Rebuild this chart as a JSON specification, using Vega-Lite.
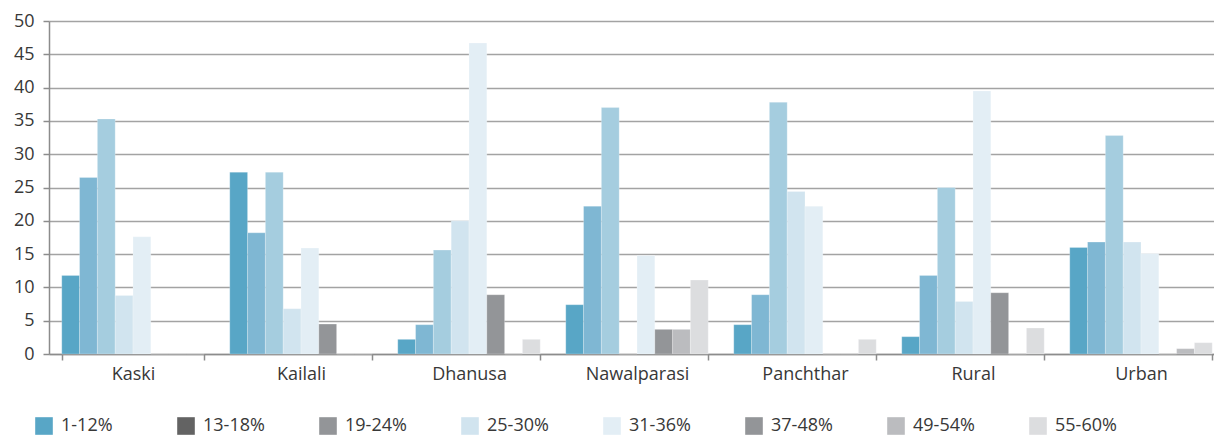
{
  "$schema": "https://vega.github.io/schema/vega-lite/v6.json",
  "width": 1164,
  "height": 333,
  "autosize": {"type": "none"},
  "padding": {"left": 49, "top": 21, "right": 1, "bottom": 83},
  "background": "white",
  "config": {"view": {"stroke": null}, "font": "Open Sans"},
  "data": {
    "values": [
      {"region": "Kaski", "band": "1-12%", "value": 11.8},
      {"region": "Kaski", "band": "13-18%", "value": 26.5},
      {"region": "Kaski", "band": "19-24%", "value": 35.3},
      {"region": "Kaski", "band": "25-30%", "value": 8.8},
      {"region": "Kaski", "band": "31-36%", "value": 17.6},
      {"region": "Kaski", "band": "37-48%", "value": 0},
      {"region": "Kaski", "band": "49-54%", "value": 0},
      {"region": "Kaski", "band": "55-60%", "value": 0},
      {"region": "Kailali", "band": "1-12%", "value": 27.3},
      {"region": "Kailali", "band": "13-18%", "value": 18.2},
      {"region": "Kailali", "band": "19-24%", "value": 27.3},
      {"region": "Kailali", "band": "25-30%", "value": 6.8},
      {"region": "Kailali", "band": "31-36%", "value": 15.9},
      {"region": "Kailali", "band": "37-48%", "value": 4.5},
      {"region": "Kailali", "band": "49-54%", "value": 0},
      {"region": "Kailali", "band": "55-60%", "value": 0},
      {"region": "Dhanusa", "band": "1-12%", "value": 2.2},
      {"region": "Dhanusa", "band": "13-18%", "value": 4.4},
      {"region": "Dhanusa", "band": "19-24%", "value": 15.6},
      {"region": "Dhanusa", "band": "25-30%", "value": 20.0},
      {"region": "Dhanusa", "band": "31-36%", "value": 46.7},
      {"region": "Dhanusa", "band": "37-48%", "value": 8.9},
      {"region": "Dhanusa", "band": "49-54%", "value": 0},
      {"region": "Dhanusa", "band": "55-60%", "value": 2.2},
      {"region": "Nawalparasi", "band": "1-12%", "value": 7.4},
      {"region": "Nawalparasi", "band": "13-18%", "value": 22.2},
      {"region": "Nawalparasi", "band": "19-24%", "value": 37.0},
      {"region": "Nawalparasi", "band": "25-30%", "value": 0},
      {"region": "Nawalparasi", "band": "31-36%", "value": 14.8},
      {"region": "Nawalparasi", "band": "37-48%", "value": 3.7},
      {"region": "Nawalparasi", "band": "49-54%", "value": 3.7},
      {"region": "Nawalparasi", "band": "55-60%", "value": 11.1},
      {"region": "Panchthar", "band": "1-12%", "value": 4.4},
      {"region": "Panchthar", "band": "13-18%", "value": 8.9},
      {"region": "Panchthar", "band": "19-24%", "value": 37.8},
      {"region": "Panchthar", "band": "25-30%", "value": 24.4},
      {"region": "Panchthar", "band": "31-36%", "value": 22.2},
      {"region": "Panchthar", "band": "37-48%", "value": 0},
      {"region": "Panchthar", "band": "49-54%", "value": 0},
      {"region": "Panchthar", "band": "55-60%", "value": 2.2},
      {"region": "Rural", "band": "1-12%", "value": 2.6},
      {"region": "Rural", "band": "13-18%", "value": 11.8},
      {"region": "Rural", "band": "19-24%", "value": 25.0},
      {"region": "Rural", "band": "25-30%", "value": 7.9},
      {"region": "Rural", "band": "31-36%", "value": 39.5},
      {"region": "Rural", "band": "37-48%", "value": 9.2},
      {"region": "Rural", "band": "49-54%", "value": 0},
      {"region": "Rural", "band": "55-60%", "value": 3.9},
      {"region": "Urban", "band": "1-12%", "value": 16.0},
      {"region": "Urban", "band": "13-18%", "value": 16.8},
      {"region": "Urban", "band": "19-24%", "value": 32.8},
      {"region": "Urban", "band": "25-30%", "value": 16.8},
      {"region": "Urban", "band": "31-36%", "value": 15.1},
      {"region": "Urban", "band": "37-48%", "value": 0},
      {"region": "Urban", "band": "49-54%", "value": 0.8},
      {"region": "Urban", "band": "55-60%", "value": 1.7}
    ]
  },
  "encoding": {
    "x": {
      "field": "region",
      "type": "nominal",
      "sort": ["Kaski", "Kailali", "Dhanusa", "Nawalparasi", "Panchthar", "Rural", "Urban"],
      "scale": {"range": [0, 1176], "paddingInner": 0.152, "paddingOuter": 0.076},
      "axis": {
        "title": null,
        "labelAngle": 0,
        "labelFontSize": 18,
        "labelColor": "#383838",
        "labelPadding": 5,
        "tickBand": "extent",
        "tickSize": 6,
        "tickColor": "#8c8c8c",
        "tickWidth": 1.5,
        "domainColor": "#8c8c8c",
        "domainWidth": 1.5,
        "grid": false
      }
    },
    "xOffset": {
      "field": "band",
      "type": "nominal",
      "sort": ["1-12%", "13-18%", "19-24%", "25-30%", "31-36%", "37-48%", "49-54%", "55-60%"],
      "scale": {"paddingInner": 0, "paddingOuter": 0}
    },
    "y": {
      "field": "value",
      "type": "quantitative",
      "scale": {"domain": [0, 50], "nice": false},
      "axis": {
        "title": null,
        "values": [0, 5, 10, 15, 20, 25, 30, 35, 40, 45, 50],
        "labelFontSize": 18,
        "labelColor": "#383838",
        "labelPadding": 9,
        "tickSize": 6,
        "tickColor": "#8c8c8c",
        "tickWidth": 1.5,
        "domainColor": "#8c8c8c",
        "domainWidth": 1.5,
        "grid": true,
        "gridColor": "#a3a3a3",
        "gridWidth": 1.3
      }
    }
  },
  "layer": [
    {
      "mark": {"type": "bar", "opacity": 0},
      "encoding": {
        "color": {
          "field": "band",
          "type": "nominal",
          "scale": {
            "domain": ["1-12%", "13-18%", "19-24%", "25-30%", "31-36%", "37-48%", "49-54%", "55-60%"],
            "range": ["#58a6c6", "#636363", "#939598", "#d1e4ef", "#e3eef5", "#939598", "#bbbcbf", "#dcdddf"]
          },
          "legend": {
            "title": null,
            "orient": "none",
            "legendX": -14,
            "legendY": 396,
            "direction": "horizontal",
            "columns": 8,
            "gridAlign": "all",
            "columnPadding": 54,
            "padding": 0,
            "symbolType": "square",
            "symbolSize": 310,
            "symbolStrokeWidth": 0,
            "symbolOpacity": 1,
            "labelFontSize": 18,
            "labelColor": "#383838",
            "labelOffset": 8
          }
        }
      }
    },
    {
      "mark": {"type": "bar", "stroke": "#ffffff", "strokeWidth": 0.4, "strokeOpacity": 0.6},
      "encoding": {
        "fill": {
          "field": "band",
          "type": "nominal",
          "scale": {
            "domain": ["1-12%", "13-18%", "19-24%", "25-30%", "31-36%", "37-48%", "49-54%", "55-60%"],
            "range": ["#58a6c6", "#7fb7d3", "#a5cddf", "#d1e4ef", "#e3eef5", "#939598", "#bbbcbf", "#dcdddf"]
          },
          "legend": null
        }
      }
    }
  ]
}
